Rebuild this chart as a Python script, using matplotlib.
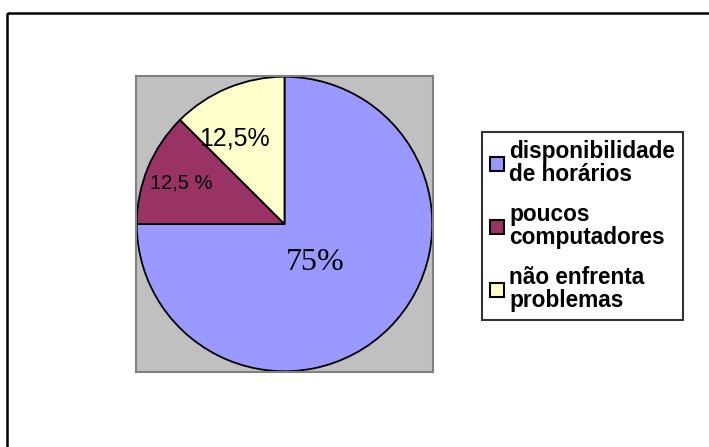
import matplotlib.pyplot as plt
from matplotlib.patches import Rectangle, Patch

categories = ['disponibilidade\nde horários', 'poucos\ncomputadores', 'não enfrenta\nproblemas']
values = [75, 12.5, 12.5]
labels = ['75%', '12,5 %', '12,5%']
colors = ['#9999FF', '#993366', '#FFFFCC']

W, H = 709, 447
fig = plt.figure(figsize=(W / 100, H / 100), dpi=100)

# outer chart border (open on right/bottom, clipped by image edge)
fig.patches.append(Rectangle((7 / W, 1 - 13 / H), 2, -2, transform=fig.transFigure,
                             fill=False, edgecolor='black', linewidth=1.8))

ax = fig.add_axes([136 / W, 1 - 372 / H, 297 / W, 296 / H])
wedges, _ = ax.pie(values, colors=colors, startangle=90, counterclock=False,
                   frame=True,
                   wedgeprops=dict(edgecolor='black', linewidth=1.3))
ax.set_facecolor('#C0C0C0')
ax.set_xlim(-1.005, 1.005)
ax.set_ylim(-1.005, 1.005)
ax.set_aspect('auto')
ax.set_xticks([])
ax.set_yticks([])
for s in ax.spines.values():
    s.set_edgecolor('#808080')
    s.set_linewidth(1.5)

ax.text(0.21, -0.26, labels[0], ha='center', va='center', fontsize=23,
        family='Liberation Serif')
ax.text(-0.70, 0.28, labels[1], ha='center', va='center', fontsize=14.5,
        family='Liberation Sans')
ax.text(-0.34, 0.58, labels[2], ha='center', va='center', fontsize=18,
        family='Liberation Sans')

handles = [Patch(facecolor=c, edgecolor='black', linewidth=1.5) for c in colors]
leg = fig.legend(handles, categories, loc='upper left',
                 bbox_to_anchor=(482 / W, 1 - 132 / H),
                 prop=dict(family='Liberation Sans', weight='bold', size=16.3),
                 frameon=True, fancybox=False, edgecolor='black',
                 handlelength=0.6, handleheight=0.6, handletextpad=0.25,
                 labelspacing=0.75, borderpad=0.35, borderaxespad=0)
leg.get_frame().set_linewidth(1.5)
for t in leg.get_texts():
    t.set_linespacing(1.0)

fig.savefig('out.png', dpi=100)
